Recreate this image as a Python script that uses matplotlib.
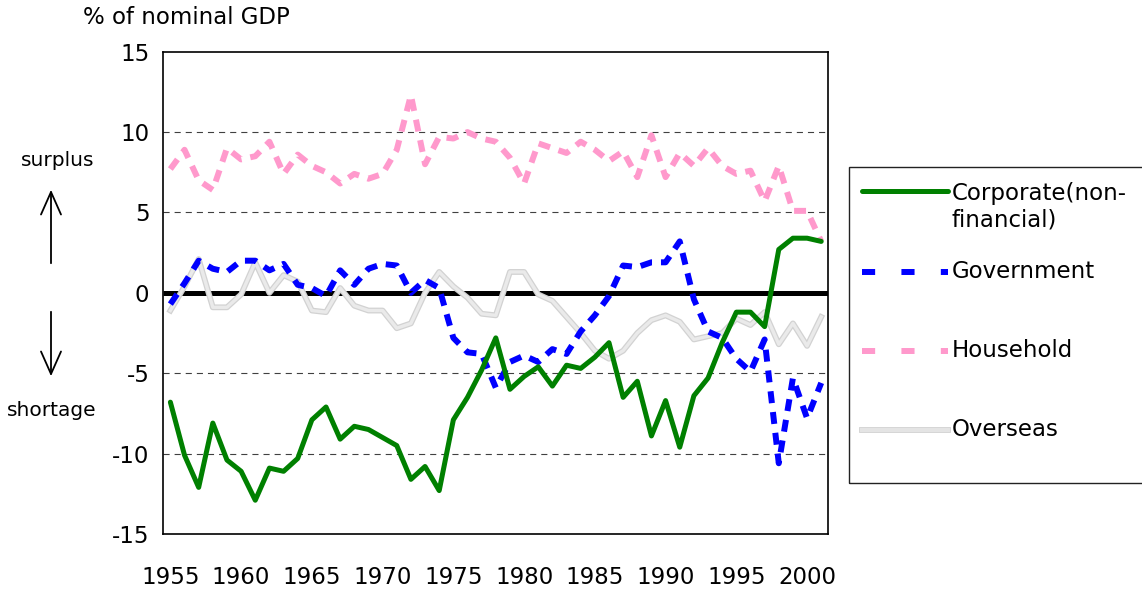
import matplotlib
matplotlib.use("Agg")
import matplotlib.pyplot as plt
from matplotlib.lines import Line2D
from matplotlib.patches import Rectangle, FancyArrowPatch
import matplotlib.patheffects as pe

plt.rcParams['font.family'] = ['DejaVu Sans']

years = list(range(1955, 2002))
corporate = [-6.8, -10.1, -12.1, -8.1, -10.4, -11.1, -12.9, -10.9, -11.1, -10.3,
             -7.9, -7.1, -9.1, -8.3, -8.5, -9.0, -9.5, -11.6, -10.8, -12.3,
             -7.9, -6.5, -4.8, -2.8, -6.0, -5.2, -4.6, -5.8, -4.5, -4.7,
             -4.0, -3.1, -6.5, -5.5, -8.9, -6.7, -9.6, -6.4, -5.3, -3.1,
             -1.2, -1.2, -2.1, 2.7, 3.4, 3.4, 3.2]
government = [-0.7, 0.6, 2.0, 1.5, 1.3, 2.0, 2.0, 1.4, 1.8, 0.5,
              0.3, -0.2, 1.4, 0.5, 1.5, 1.8, 1.7, 0.0, 0.8, 0.3,
              -2.8, -3.7, -3.8, -5.9, -4.3, -3.9, -4.3, -3.5, -3.8, -2.4,
              -1.4, -0.2, 1.7, 1.6, 1.9, 1.9, 3.2, -0.4, -2.4, -2.8,
              -4.1, -4.9, -2.9, -10.6, -5.3, -7.8, -5.6]
household = [7.7, 8.9, 7.0, 6.4, 9.0, 8.3, 8.5, 9.4, 7.4, 8.6,
             7.9, 7.5, 6.8, 7.4, 7.1, 7.4, 8.9, 12.3, 8.0, 9.7,
             9.6, 10.0, 9.6, 9.4, 8.4, 6.8, 9.3, 9.0, 8.7, 9.4,
             8.9, 8.2, 8.8, 7.2, 9.8, 7.2, 8.7, 7.9, 9.0, 7.9,
             7.4, 7.6, 5.7, 7.9, 5.1, 5.1, 3.2]
overseas = [-1.1, 0.4, 2.1, -0.9, -0.9, -0.1, 1.9, 0.0, 1.1, 0.7,
            -1.1, -1.2, 0.3, -0.8, -1.1, -1.1, -2.2, -1.9, 0.0, 1.3,
            0.4, -0.3, -1.3, -1.4, 1.3, 1.3, -0.1, -0.5, -1.5, -2.5,
            -3.6, -4.1, -3.6, -2.5, -1.7, -1.4, -1.8, -2.9, -2.7, -2.5,
            -1.6, -2.0, -1.2, -3.2, -1.9, -3.3, -1.5]
series_names = ["Corporate(non-\nfinancial)", "Government", "Household", "Overseas"]
x_ticks = list(range(1955, 2001, 5))
y_ticks = [-15, -10, -5, 0, 5, 10, 15]

W, H = 1142, 589
fig = plt.figure(figsize=(W / 100, H / 100), dpi=100)
ax = fig.add_axes([163.3 / W, 1 - 534 / H, 665 / W, (534 - 51.7) / H])

FS = 16.5

# gridlines
for v in [-10, -5, 5, 10]:
    ax.axhline(v, color='#404040', lw=0.8, linestyle=(0, (5.5, 4.5)), zorder=1)
ax.axhline(0, color='black', lw=3.6, zorder=2, solid_capstyle='butt')

# series
gray_fx = [pe.Stroke(linewidth=4.2, foreground='#D2D2D2'), pe.Normal()]
l_ov, = ax.plot(years, overseas, color='#EAEAEA', lw=2.4, zorder=3,
                path_effects=gray_fx, solid_joinstyle='round')
l_ho, = ax.plot(years, household, color='#FF99CC', lw=4.3, zorder=4,
                dashes=(2.0, 1.5), dash_capstyle='butt')
l_go, = ax.plot(years, government, color='#0000FF', lw=4.3, zorder=5,
                dashes=(2.0, 1.5), dash_capstyle='butt')
l_co, = ax.plot(years, corporate, color='#008000', lw=3.6, zorder=6,
                solid_joinstyle='round', solid_capstyle='round')

ax.set_xlim(1954.5, 2001.5)
ax.set_ylim(-15, 15)
ax.set_xticks(x_ticks)
ax.set_xticklabels([str(t) for t in x_ticks], fontsize=FS)
ax.set_yticks(y_ticks)
ax.set_yticklabels([str(t) for t in y_ticks], fontsize=FS)
ax.tick_params(axis='both', length=0)
ax.tick_params(axis='y', pad=10)
ax.tick_params(axis='x', pad=23)
for s in ax.spines.values():
    s.set_linewidth(1.2)
    s.set_color('black')

# title & annotations
def fx(px):
    return px / W

def fy(py):
    return 1 - py / H

fig.text(fx(83), fy(18), "% of nominal GDP", fontsize=FS, ha='left', va='center')
fig.text(fx(58), fy(161), "surplus", fontsize=14.5, ha='center', va='center')
fig.text(fx(52), fy(411), "shortage", fontsize=14.5, ha='center', va='center')
for (y0, y1) in [(266, 187), (309, 379)]:
    arr = FancyArrowPatch((fx(51), fy(y0)), (fx(51), fy(y1)), transform=fig.transFigure,
                          arrowstyle='->,head_length=0.9,head_width=0.4',
                          mutation_scale=18, lw=1.3, color='black')
    fig.add_artist(arr)

# legend box
fig.add_artist(Rectangle((fx(849), fy(483)), fx(1150) - fx(849), fy(166.5) - fy(483),
                         transform=fig.transFigure, fill=False, edgecolor='#222222', lw=1.0))
leg_rows = [
    (191, 207, series_names[0], dict(color='#008000', lw=3.6, solid_capstyle='round')),
    (271.5, 271.5, series_names[1], dict(color='#0000FF', lw=4.3, dashes=(2.2, 4.4), dash_capstyle='butt')),
    (350.5, 350.5, series_names[2], dict(color='#FF99CC', lw=4.3, dashes=(2.2, 4.4), dash_capstyle='butt')),
    (429.5, 429.5, series_names[3], dict(color='#E4E4E4', lw=3.0,
                                         path_effects=[pe.Stroke(linewidth=4.2, foreground='#D2D2D2'), pe.Normal()])),
]
for ly, ty, lab, kw in leg_rows:
    fig.add_artist(Line2D([fx(862), fx(948)], [fy(ly), fy(ly)], transform=fig.transFigure, **kw))
    fig.text(fx(952), fy(ty), lab, fontsize=FS, ha='left', va='center')

fig.savefig("out.png", dpi=100)
